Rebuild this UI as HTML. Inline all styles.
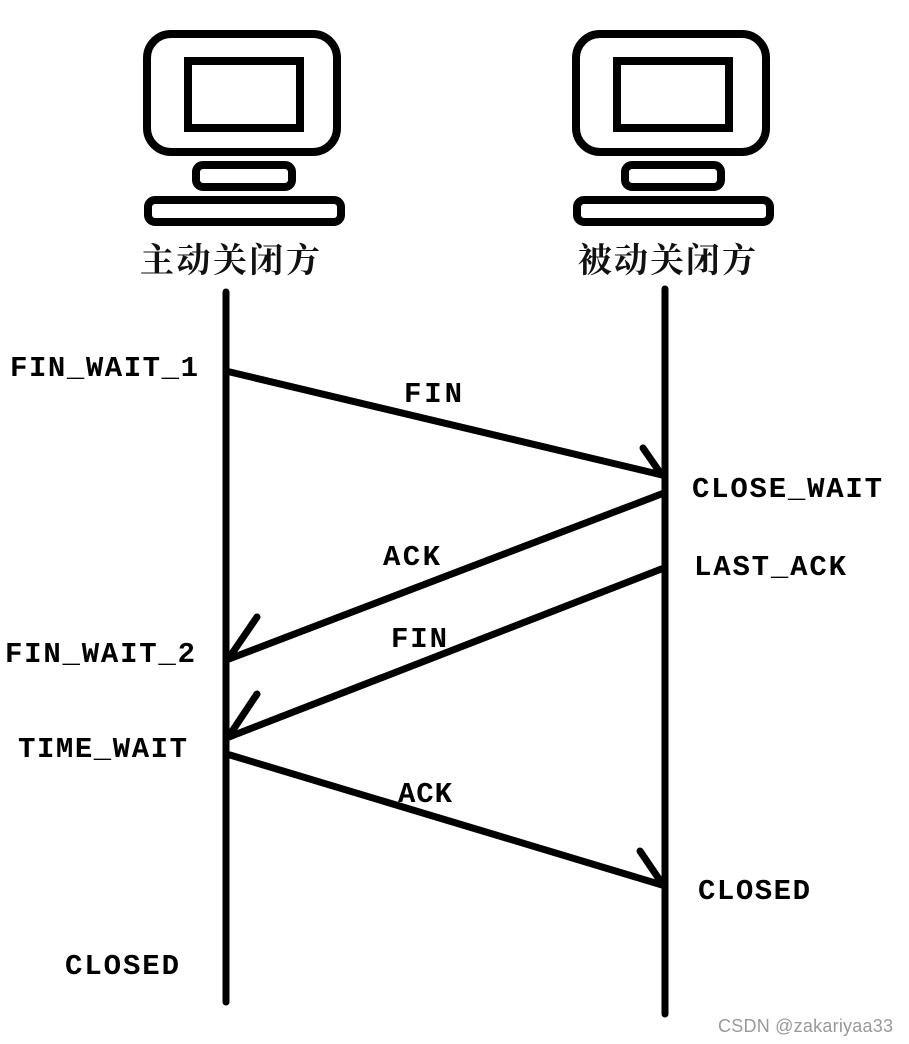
<!DOCTYPE html>
<html><head><meta charset="utf-8"><style>
html,body{margin:0;padding:0;background:#fff;width:909px;height:1044px;overflow:hidden}
svg{display:block}
.t{font-family:"Liberation Mono",monospace;font-size:29px;font-weight:bold;fill:#000}
.c{font-family:"Liberation Serif","Noto Serif CJK SC",serif;font-size:34px;font-weight:bold;fill:#111}
</style></head><body>
<svg width="909" height="1044" viewBox="0 0 909 1044" xmlns="http://www.w3.org/2000/svg">
<g fill="none" stroke="#000" stroke-width="8">
 <g id="pc">
  <rect x="147" y="34" width="190" height="118" rx="24"/>
  <rect x="188" y="61" width="112" height="67"/>
  <rect x="196" y="165" width="96" height="22" rx="7"/>
  <rect x="148" y="200" width="193" height="22" rx="7"/>
 </g>
 <use href="#pc" x="429"/>
</g>
<text class="c" x="140" y="272" textLength="180">主动关闭方</text>
<text class="c" x="578" y="272" textLength="178">被动关闭方</text>
<g stroke="#000" stroke-width="7" stroke-linecap="round" fill="none">
 <line x1="226" y1="292" x2="226" y2="1002"/>
 <line x1="665" y1="289" x2="665" y2="1014"/>
 <line x1="230" y1="372" x2="662" y2="475"/>
 <line x1="643" y1="448" x2="661" y2="474"/>
 <line x1="664" y1="493" x2="229" y2="659"/>
 <line x1="257" y1="617" x2="231" y2="655"/>
 <line x1="664" y1="568" x2="229" y2="737"/>
 <line x1="257" y1="694" x2="231" y2="733"/>
 <line x1="230" y1="755" x2="662" y2="885"/>
 <line x1="640" y1="851" x2="661" y2="882"/>
</g>
<text class="t" x="10" y="376" textLength="188">FIN_WAIT_1</text>
<text class="t" x="404" y="402" textLength="58">FIN</text>
<text class="t" x="692" y="497" textLength="190">CLOSE_WAIT</text>
<text class="t" x="383" y="565" textLength="57">ACK</text>
<text class="t" x="694" y="575" textLength="152">LAST_ACK</text>
<text class="t" x="5" y="662" textLength="190">FIN_WAIT_2</text>
<text class="t" x="391" y="647" textLength="56">FIN</text>
<text class="t" x="18" y="757" textLength="169">TIME_WAIT</text>
<text class="t" x="398" y="802" textLength="54">ACK</text>
<text class="t" x="698" y="899" textLength="112">CLOSED</text>
<text class="t" x="65" y="974" textLength="114">CLOSED</text>
<text x="718" y="1032" font-family="Liberation Sans,sans-serif" font-size="18" fill="#999" textLength="175">CSDN @zakariyaa33</text>
</svg>
</body></html>
